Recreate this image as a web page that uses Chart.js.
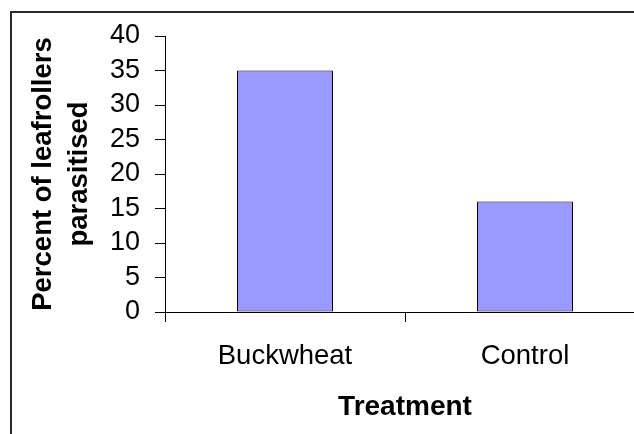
<!DOCTYPE html>
<html>
<head>
<meta charset="utf-8">
<script src="https://cdn.jsdelivr.net/npm/chart.js@4"></script>
<style>
  html, body { margin: 0; padding: 0; background: #fff; overflow: hidden; }
  #wrap { position: absolute; left: 0; top: 0; width: 660px; height: 434px; }
</style>
</head>
<body>
<div id="wrap"><canvas id="chart" width="660" height="434"></canvas></div>
<script>
// Percent of leafrollers parasitised, by treatment
const categories = ['Buckwheat', 'Control'];
const parasitised = [35, 16];
const yMin = 0;
const yMax = 40;
const yStep = 5;
const xTitle = 'Treatment';
const yTitle = ['Percent of leafrollers', 'parasitised'];

const FONT = "'Liberation Sans', Arial, sans-serif";

// Frame around the whole chart, running off the right and bottom edges
const framePlugin = {
  id: 'frame',
  beforeDraw(chart) {
    const ctx = chart.ctx;
    ctx.save();
    ctx.fillStyle = '#ffffff';
    ctx.fillRect(0, 0, chart.width, chart.height);
    ctx.strokeStyle = '#2a2a2a';
    ctx.lineWidth = 2;
    ctx.strokeRect(11, 12, 2000, 2000);
    ctx.restore();
  }
};

new Chart(document.getElementById('chart'), {
  type: 'bar',
  data: {
    labels: categories,
    datasets: [{
      data: parasitised,
      backgroundColor: '#9999ff',
      borderColor: '#000000',
      borderWidth: 1,
      borderSkipped: false,
      categoryPercentage: 1.0,
      barPercentage: 0.4
    }]
  },
  options: {
    responsive: false,
    animation: false,
    devicePixelRatio: 1,
    layout: { padding: { left: 0, top: 36, right: 15, bottom: 0 } },
    plugins: { legend: { display: false }, tooltip: { enabled: false } },
    scales: {
      x: {
        offset: true,
        grid: {
          offset: true,
          drawOnChartArea: false,
          drawTicks: true,
          tickLength: 10,
          color: '#000000'
        },
        border: { display: true, color: '#000000', width: 1 },
        ticks: {
          color: '#000000',
          padding: 18,
          font: { family: FONT, size: 27.5 }
        },
        title: {
          display: true,
          text: xTitle,
          color: '#000000',
          padding: { top: 0, bottom: 10 },
          font: { family: FONT, size: 28, weight: 'bold' }
        },
        afterFit(scale) { scale.height = 434 - 312; }
      },
      y: {
        min: yMin,
        max: yMax,
        grid: {
          drawOnChartArea: false,
          drawTicks: true,
          tickLength: 10,
          color: '#000000'
        },
        border: { display: true, color: '#000000', width: 1 },
        ticks: {
          stepSize: yStep,
          autoSkip: false,
          color: '#000000',
          padding: 15,
          font: { family: FONT, size: 27, lineHeight: 1.0 }
        },
        title: {
          display: true,
          text: yTitle,
          color: '#000000',
          padding: { top: 26, bottom: 0 },
          font: { family: FONT, size: 27.5, weight: 'bold', lineHeight: 1.3 }
        },
        afterFit(scale) { scale.width = 165; }
      }
    }
  },
  plugins: [framePlugin]
});
</script>
</body>
</html>
